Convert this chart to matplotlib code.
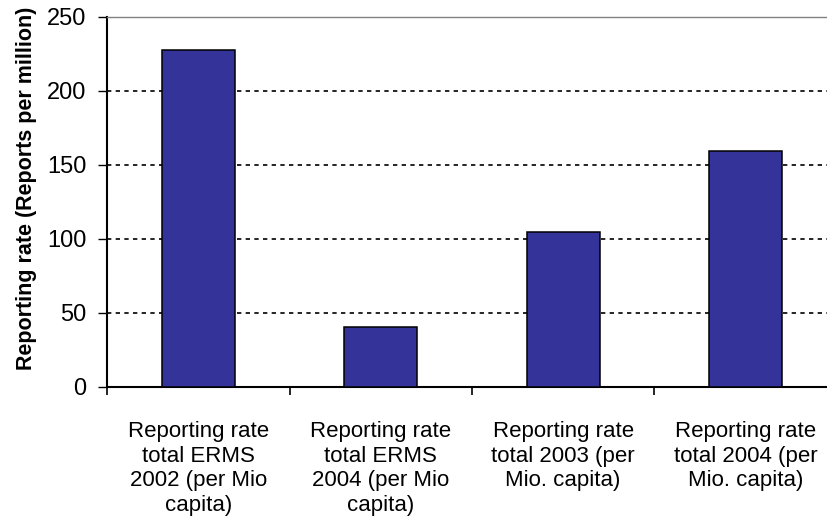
import matplotlib
matplotlib.use("Agg")
import matplotlib.pyplot as plt
import numpy as np

categories = [
    "Reporting rate\ntotal ERMS\n2002 (per Mio\ncapita)",
    "Reporting rate\ntotal ERMS\n2004 (per Mio\ncapita)",
    "Reporting rate\ntotal 2003 (per\nMio. capita)",
    "Reporting rate\ntotal 2004 (per\nMio. capita)",
]
values = [227.5, 40.5, 104.5, 159.5]
yticks = [0, 50, 100, 150, 200, 250]
ylabel = "Reporting rate (Reports per million)"

plt.rcParams["font.family"] = ["Liberation Sans", "DejaVu Sans"]

fig = plt.figure(figsize=(8.28, 5.29), dpi=100)
ax = fig.add_axes([0.1296, 0.269, 0.8807, 0.699])

x = np.arange(len(categories))
ax.bar(x, values, width=0.40, color="#333399", edgecolor="black", linewidth=1.1, zorder=3)

ax.set_xlim(-0.5, len(categories) - 0.5)
ax.set_ylim(0, 250)
ax.set_yticks(yticks)
ax.set_yticklabels([str(t) for t in yticks], fontsize=17)
ax.yaxis.grid(True, color="black", linestyle=(0, (2.6, 2.6)), linewidth=1.2, zorder=1)

# category boundaries carry the tick marks, labels sit centered between them
ax.set_xticks(np.arange(len(categories) + 1) - 0.5)
ax.set_xticklabels([])
ax.set_xticks(x, minor=True)
ax.set_xticklabels(categories, minor=True, fontsize=16, linespacing=1.22)
ax.tick_params(axis="x", which="minor", length=0, pad=25)
ax.tick_params(axis="x", which="major", length=6, width=1.2, direction="out")
ax.tick_params(axis="y", length=6.5, width=1.0, direction="out", pad=8.5)

for s in ("left", "bottom"):
    ax.spines[s].set_linewidth(1.5)
    ax.spines[s].set_color("black")
ax.spines["top"].set_color("#808080")
ax.spines["top"].set_linewidth(1.0)
ax.spines["right"].set_visible(False)

ax.set_ylabel(ylabel, fontsize=15.5, fontweight="bold")
ax.yaxis.set_label_coords(-0.096, 0.537)

fig.savefig("out.png", dpi=100)
